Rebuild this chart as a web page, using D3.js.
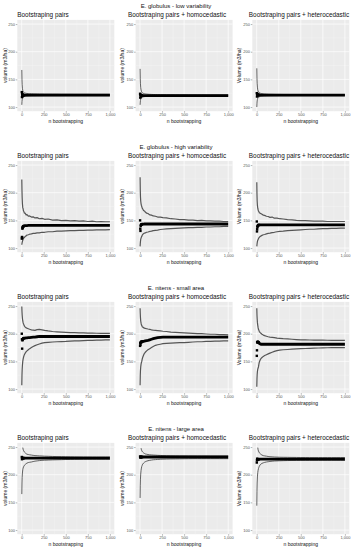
<!DOCTYPE html>
<html><head><meta charset="utf-8">
<script src="https://cdn.jsdelivr.net/npm/d3@7"></script>
<style>
html,body{margin:0;padding:0;background:#fff;}
svg{display:block;font-family:"Liberation Sans",Arial,sans-serif;}
</style></head>
<body>
<script>
// ---------------- data ----------------
const rowTitles = ["E. globulus - low variability","E. globulus - high variability","E. nitens - small area","E. nitens - large area"];
const colTitles = ["Bootstraping pairs","Bootstraping pairs + homocedastic","Bootstraping pairs + heterocedastic"];
const yTitles = ["volume (m3/ha)","volume (m3/ha)","Volume (m3/ha)"];
const xTicks = [0,250,500,750,1000];
const yTicks = [100,150,200,250];
const xTitle = "n bootstrapping";

const nBoot = [1,3,5,8,12,16,20,25,30,40,50,60,75,90,110,130,150,175,200,230,260,300,350,400,450,500,550,600,650,700,750,800,850,900,950,1000];

// row 1: E. globulus - low variability
const lv1Upper = [167,150,141,134,130,128,127,126.3,125.8,125.2,124.8,124.6,124.4,124.2,124,123.9,123.8,123.7,123.6,123.6,123.5,123.5,123.4,123.4,123.3,123.3,123.3,123.2,123.2,123.2,123.2,123.1,123.1,123.1,123.1,123.1];
const lv1Mean  = [127,118,124,120,122,121.2,121.8,121.4,121.6,121.5,121.5,121.6,121.5,121.5,121.5,121.5,121.5,121.5,121.5,121.5,121.5,121.5,121.5,121.5,121.5,121.5,121.5,121.5,121.5,121.5,121.5,121.5,121.5,121.5,121.5,121.5];
const lv1Lower = [104,110,113,115.5,117,117.8,118.3,118.7,119,119.4,119.7,119.9,120,120.1,120.2,120.3,120.3,120.4,120.4,120.4,120.5,120.5,120.5,120.5,120.5,120.6,120.6,120.6,120.6,120.6,120.6,120.6,120.6,120.6,120.6,120.6];
const lv2Upper = [169,151,142,135,131,128.5,127,126,125.4,124.6,124.1,123.8,123.5,123.2,123,122.8,122.7,122.6,122.5,122.4,122.4,122.3,122.3,122.2,122.2,122.2,122.1,122.1,122.1,122.1,122,122,122,122,122,122];
const lv2Mean  = [124,117,122,119.5,121,120.2,120.8,120.4,120.6,120.5,120.5,120.5,120.5,120.5,120.5,120.5,120.5,120.5,120.5,120.5,120.5,120.5,120.5,120.5,120.5,120.5,120.5,120.5,120.5,120.5,120.5,120.5,120.5,120.5,120.5,120.5];
const lv2Lower = [104,109,112,114.5,116,116.9,117.4,117.8,118.1,118.5,118.8,119,119.2,119.3,119.4,119.5,119.6,119.6,119.7,119.7,119.7,119.8,119.8,119.8,119.8,119.9,119.9,119.9,119.9,119.9,119.9,119.9,119.9,119.9,119.9,119.9];
const lv3Upper = [170,152,143,136,131,129,127.5,126.5,125.8,125,124.5,124.2,123.9,123.6,123.4,123.2,123.1,123,122.9,122.8,122.8,122.7,122.7,122.6,122.6,122.6,122.5,122.5,122.5,122.5,122.5,122.4,122.4,122.4,122.4,122.4];
const lv3Mean  = [125,119,124,121,122.5,121.5,122,121.6,121.8,121.6,121.5,121.5,121.5,121.5,121.5,121.5,121.5,121.5,121.5,121.5,121.5,121.5,121.5,121.5,121.5,121.5,121.5,121.5,121.5,121.5,121.5,121.5,121.5,121.5,121.5,121.5];
const lv3Lower = [100,107,111,114,116,117,117.7,118.2,118.6,119.1,119.5,119.7,119.9,120.1,120.2,120.3,120.4,120.4,120.5,120.5,120.6,120.6,120.6,120.6,120.7,120.7,120.7,120.7,120.7,120.7,120.7,120.7,120.7,120.7,120.7,120.7];

// row 2: E. globulus - high variability
const hv1Upper = [224,204,191,180,173,171,167,166,163,163,160,160.5,157.5,158,156,156.5,154.5,155,153,153.5,152,152.5,150.5,151,149.5,150,149,149.5,148.5,149,148,148.5,147.5,148,147.5,147.5];
const hv1Mean  = [117,120,119,135,138,139,139.5,140,140.3,140.5,140.6,140.7,140.8,140.8,140.9,140.9,141,141,141,141,141,141,141,141,141,141,141,141,141,141,141,141,141,141,141,141];
const hv1Lower = [106,108,110,112,114,116,117,118.5,119,121,122,123.5,124,125,125.5,126.5,126.5,127.5,127.5,128.5,128.5,129.5,129.5,130.5,130.5,131,131.5,131.5,132,132,132.5,132.5,133,132.8,133,133.2];
const hv2Upper = [228,205,193,185,180,177,175,172,171,168,167,165,163,162.5,160,159.5,158,157.5,156,156,155,154.5,153,152.5,151.5,151.5,150.5,150.5,149.5,150,149,149,148.5,148.5,148,148];
const hv2Mean  = [150,135,131,140,142,142.5,143,143.2,143.3,143.4,143.5,143.5,143.5,143.5,143.5,143.5,143.5,143.5,143.5,143.5,143.5,143.5,143.5,143.5,143.5,143.5,143.5,143.5,143.5,143.5,143.5,143.5,143.5,143.5,143.5,143.5];
const hv2Lower = [103,108,112,116,118,120,121,123,124.5,126,127,127.5,128.5,129,130,130.5,131.5,132,132.5,133.5,134,134.5,135,135.5,136,136.5,137,137,137.5,137.5,138,138,138.5,138.5,139,139];
const hv3Upper = [219,197,185,177,172,169,167,165.5,164,163,162,161,159.5,159,157.5,157,155.5,156,154,154,153,152.5,151.5,151,150,149.5,149.5,149,148.5,148.5,148.5,148,148,148,148,148];
const hv3Mean  = [148,130,134,138,140,141,141.5,141.7,141.8,141.9,142,142,142,142,142,142,142,142,142,142,142,142,142,142,142,142,142,142,142,142,142,142,142,142,142,142];
const hv3Lower = [103,106,109,112,114,115.5,117,118.5,119.5,121,122,123,124,124.5,125.5,126.5,127,128,128.5,129.5,130,130.5,131.5,132,132.5,133,133.5,134,134,134.5,135,135,135.5,135.5,136,136];

// row 3: E. nitens - small area
const sa1Upper = [249,240,234,228,223,220,218,216,214,212,210.5,210,209,208,207,206.5,206,207.5,208,207,206,205,204,203.5,203,202.5,202,202,201.5,201.5,201,201,200.8,200.6,200.5,200.5];
const sa1Mean  = [200,190,173,188,190,191,191.5,192,192,192,192.5,192.5,193,193,193.5,194,194,194.5,195,195,195,195,195,195,195,195,195,195,195,195,195,195,195,195,195,195];
const sa1Lower = [107,125,135,143,150,154,157,160,162,165,167.5,169,171,173,175,177,178.5,180,181.5,183,184,184.5,185,185.5,185.8,186,186.5,187,187.2,187.5,187.8,188,188.3,188.5,188.8,189];
const sa2Upper = [246,236,229,223,219,216,215,213,212,211,210,209.5,209,208.5,208,207,206.5,206,205.5,205,204.5,204,203,202.5,202,201.5,201,200.5,200,200,199.5,199,199,198.5,198.5,198];
const sa2Mean  = [178,183,180,184,185,185,185.5,185.5,186,186,186.5,187,187.5,188,189,190,191,192,193,193.5,194,194,194,194,194,194,194,194,194,194,194,194,194,194,194,194];
const sa2Lower = [107,124,133,140,145,148,150,154,157,161,164.5,166.5,169,171,173,175,177,179,180,181,182,182.5,183,183.5,184,184,184.5,185,185.5,185.5,186,186,186.5,186.5,187,187];
const sa3Upper = [246,234,227,220,215,211,208,206,204,202,200.5,199,197.5,196.5,195.5,194.5,194,193.5,193,192,191.6,191,190.5,190,189.5,189,188.8,188.6,188.5,188.4,188.3,188.2,188.1,188,188,188];
const sa3Mean  = [160,170,185,184,185,185,184.5,183.5,182.5,181.5,181,181,181,181,181,181,181,181,181,181,181,181,181,181,181,181,181,181,181,181,181,181,181,181,181,181];
const sa3Lower = [104,118,126,132,136,138,140,145,149,153,155.5,157,159,160.5,162,163.5,165,166.5,168,169.5,170.5,171,171.5,172,172.5,173,173.3,173.6,174,174.2,174.4,174.6,174.8,175,175,175];

// row 4: E. nitens - large area
const la1Upper = [null,null,null,null,249,246,244,242.5,241,239.5,238,237,236.5,236,235.5,235,234.5,234.3,234,233.8,233.5,233.3,233,232.8,232.7,232.5,232.4,232.3,232.2,232.1,232.1,232,232,232,232,232];
const la1Mean  = [232,228,231,229,230,230,230,230,230,230,230,230,230,230,230,230,230,230,230,230,230,230,230,230,230,230,230,230,230,230,230,230,230,230,230,230];
const la1Lower = [165,185,195,203,209,212,214,215.5,217,218.5,220,221,222,222.5,223,223.8,224.5,225,225.5,226,226.2,226.5,226.8,227,227.2,227.5,227.6,227.7,227.8,227.9,227.9,228,228,228,228,228];
const la2Upper = [null,null,null,null,248,245,243.5,242,241,239.5,238.5,237.5,237,236.5,236,235.8,235.5,235.3,235,234.8,234.6,234.4,234.2,234.1,234,234,233.9,233.9,233.8,233.8,233.8,233.7,233.7,233.7,233.7,233.7];
const la2Mean  = [233,231,232,232,232,232,232,232,232,232,232,232,232,232,232,232,232,232,232,232,232,232,232,232,232,232,232,232,232,232,232,232,232,232,232,232];
const la2Lower = [158,180,192,201,208,212,215,217,219,221,222.5,223.5,224.5,225.3,226,226.5,227,227.3,227.6,227.9,228.1,228.3,228.5,228.6,228.7,228.8,228.9,229,229,229,229,229,229,229,229,229];
const la3Upper = [null,null,null,null,249,245,243,241,239.5,238,236.5,235.5,234.5,234,233.5,233,232.5,232.3,232,231.8,231.6,231.5,231.4,231.3,231.2,231.1,231.1,231,231,231,231,231,231,231,231,231];
const la3Mean  = [222,226,229,227.5,228,228,228,228,228,228,228,228,228,228,228,228,228,228,228,228,228,228,228,228,228,228,228,228,228,228,228,228,228,228,228,228];
const la3Lower = [144,170,185,196,204,208,211,213.5,215.5,218,219.5,220.5,221.5,222.3,223,223.5,224,224.4,224.8,225,225.2,225.4,225.6,225.7,225.8,225.9,226,226,226,226,226,226,226,226,226,226];

const panels = [
  [[lv1Upper,lv1Mean,lv1Lower],[lv2Upper,lv2Mean,lv2Lower],[lv3Upper,lv3Mean,lv3Lower]],
  [[hv1Upper,hv1Mean,hv1Lower],[hv2Upper,hv2Mean,hv2Lower],[hv3Upper,hv3Mean,hv3Lower]],
  [[sa1Upper,sa1Mean,sa1Lower],[sa2Upper,sa2Mean,sa2Lower],[sa3Upper,sa3Mean,sa3Lower]],
  [[la1Upper,la1Mean,la1Lower],[la2Upper,la2Mean,la2Lower],[la3Upper,la3Mean,la3Lower]]
];

// ---------------- layout ----------------
const W = 353, H = 550;
const rowStep = 141;
const panelTop0 = 19.9, panelH = 91.3, panelW = 97;
const colLeft = [17.3, 135.6, 252.3];
const colTitleX = [17.3, 177, 299];
const colTitleAnchor = ["start","middle","middle"];
const yTitleX = [5, 122, 239];

const svg = d3.select("body").append("svg").attr("width", W).attr("height", H);

const x = d3.scaleLinear().domain([-50, 1050]).range([0, panelW]);
const y = d3.scaleLinear().domain([92.5, 257.5]).range([panelH, 0]);

panels.forEach((row, r) => {
  const rowY = r * rowStep;
  svg.append("text").attr("x", 176).attr("y", rowY + 8.2)
    .attr("text-anchor", "middle").attr("font-size", 6).attr("fill", "#111")
    .text(rowTitles[r]);

  row.forEach((series, c) => {
    const g = svg.append("g").attr("transform", `translate(${colLeft[c]},${rowY + panelTop0})`);
    g.append("rect").attr("width", panelW).attr("height", panelH).attr("fill", "#EBEBEB");
    [125, 375, 625, 875].forEach(v => g.append("line").attr("x1", x(v)).attr("x2", x(v)).attr("y1", 0).attr("y2", panelH).attr("stroke", "#F5F5F5").attr("stroke-width", 0.35));
    [125, 175, 225].forEach(v => g.append("line").attr("y1", y(v)).attr("y2", y(v)).attr("x1", 0).attr("x2", panelW).attr("stroke", "#F5F5F5").attr("stroke-width", 0.35));
    xTicks.forEach(v => g.append("line").attr("x1", x(v)).attr("x2", x(v)).attr("y1", 0).attr("y2", panelH).attr("stroke", "#fff").attr("stroke-width", 0.7));
    yTicks.forEach(v => g.append("line").attr("y1", y(v)).attr("y2", y(v)).attr("x1", 0).attr("x2", panelW).attr("stroke", "#fff").attr("stroke-width", 0.7));

    const ax = g.append("g").attr("transform", `translate(0,${panelH})`)
      .call(d3.axisBottom(x).tickValues(xTicks).tickSize(1.5).tickPadding(0.8));
    const ay = g.append("g").call(d3.axisLeft(y).tickValues(yTicks).tickSize(1.5).tickPadding(0.8));
    [ax, ay].forEach(a => {
      a.select(".domain").remove();
      a.selectAll(".tick line").attr("stroke", "#444").attr("stroke-width", 0.4);
      a.selectAll(".tick text").attr("font-size", 4).attr("fill", "#555").attr("font-family", "Liberation Sans, Arial, sans-serif");
    });

    const [up, mean, lo] = series;
    const noisy = (r === 1 || r === 2);
    const lineGen = d3.line().defined(d => d[1] != null).x(d => x(d[0])).y(d => y(d[1]));
    const bndColor = noisy ? "#555" : "#333";
    const bndW = noisy ? 1.2 : 0.75;
    [up, lo].forEach(s => {
      g.append("path").datum(nBoot.map((n, i) => [n, s[i]]))
        .attr("d", lineGen).attr("fill", "none").attr("stroke", bndColor).attr("stroke-width", bndW).attr("stroke-linejoin", "round");
    });
    const meanPts = nBoot.map((n, i) => [n, mean[i]]);
    g.append("path").datum(meanPts.filter(d => d[0] >= 8))
      .attr("d", lineGen).attr("fill", "none").attr("stroke", "#000").attr("stroke-width", 2.8);
    g.selectAll("rect.pt").data(meanPts.filter(d => d[0] < 30)).enter().append("rect")
      .attr("class", "pt").attr("x", d => x(d[0]) - 1.2).attr("y", d => y(d[1]) - 1.2)
      .attr("width", 2.4).attr("height", 2.4).attr("fill", "#000");

    svg.append("text").attr("x", colTitleX[c]).attr("y", rowY + 16.6)
      .attr("text-anchor", colTitleAnchor[c]).attr("font-size", 6.4).attr("fill", "#111")
      .text(colTitles[c]);
    svg.append("text").attr("x", colLeft[c] + panelW / 2).attr("y", rowY + panelTop0 + panelH + 11.3)
      .attr("text-anchor", "middle").attr("font-size", 5).attr("fill", "#111").text(xTitle);
    svg.append("text")
      .attr("transform", `translate(${yTitleX[c] + 1.7},${rowY + panelTop0 + panelH / 2}) rotate(-90)`)
      .attr("text-anchor", "middle").attr("font-size", 5).attr("fill", "#111").text(yTitles[c]);
  });
});
</script>
</body></html>
